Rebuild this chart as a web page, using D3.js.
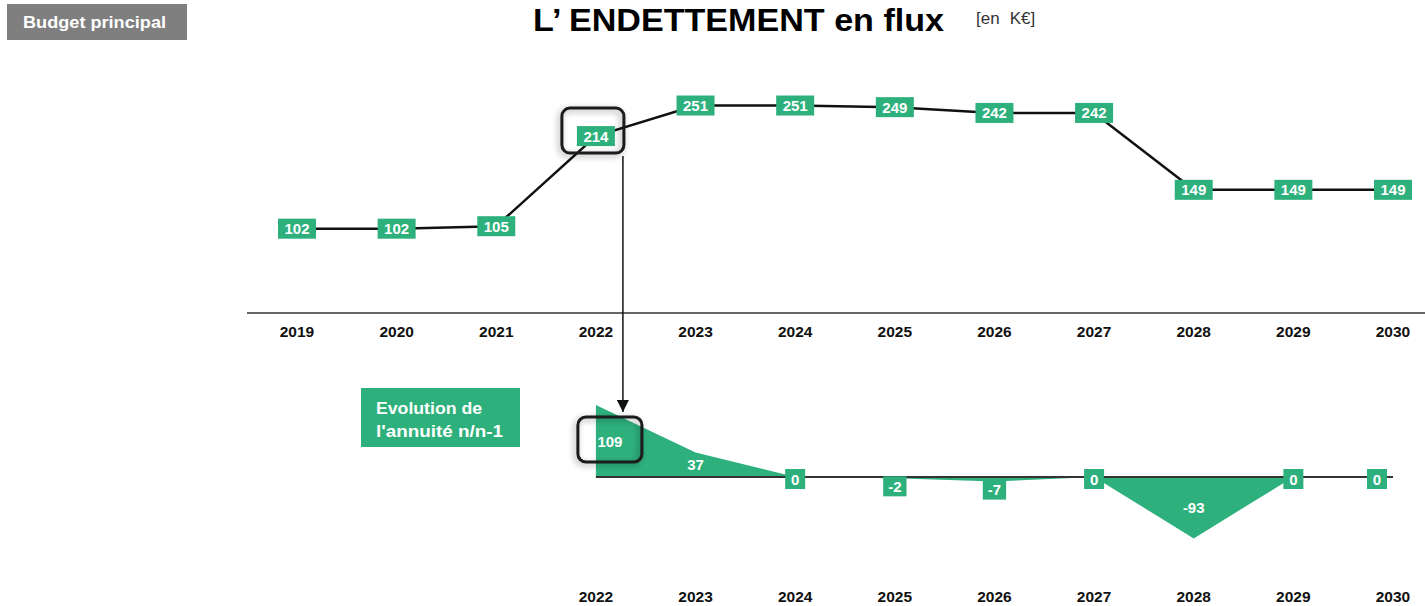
<!DOCTYPE html>
<html>
<head>
<meta charset="utf-8">
<script src="https://cdn.jsdelivr.net/npm/d3@7"></script>
<style>
  body { margin: 0; background: #fff; }
  svg { display: block; font-family: "Liberation Sans", Arial, sans-serif; }
</style>
</head>
<body>
<svg id="chart" width="1425" height="606"></svg>
<script>
// data
var years = [2019, 2020, 2021, 2022, 2023, 2024, 2025, 2026, 2027, 2028, 2029, 2030];
var encours = [102, 102, 105, 214, 251, 251, 249, 242, 242, 149, 149, 149];
var evoYears = [2022, 2023, 2024, 2025, 2026, 2027, 2028, 2029, 2030];
var evolution = [109, 37, 0, -2, -7, 0, -93, 0, 0];

var green = "#2eb07d";
var svg = d3.select("#chart");

// shadow for the highlight frames
var defs = svg.append("defs");
var f = defs.append("filter").attr("id", "shadow").attr("x", "-30%").attr("y", "-30%").attr("width", "160%").attr("height", "160%");
f.append("feDropShadow").attr("dx", -2).attr("dy", 2).attr("stdDeviation", 3).attr("flood-color", "#000").attr("flood-opacity", 0.35);
defs.append("marker").attr("id", "arrow").attr("viewBox", "0 0 10 10")
  .attr("refX", 10).attr("refY", 5).attr("markerWidth", 12).attr("markerHeight", 12)
  .attr("markerUnits", "userSpaceOnUse").attr("orient", "auto")
  .append("path").attr("d", "M0,0 L10,5 L0,10 z").attr("fill", "#111");

// header
svg.append("rect").attr("x", 7).attr("y", 4).attr("width", 180).attr("height", 36).attr("fill", "#7f7f7f");
svg.append("text").attr("x", 23).attr("y", 28).attr("textLength", 143).attr("lengthAdjust", "spacingAndGlyphs")
  .attr("fill", "#fff").attr("font-weight", "bold").attr("font-size", 16).text("Budget principal");
svg.append("text").attr("x", 533).attr("y", 31).attr("font-weight", "bold").attr("font-size", 31)
  .attr("textLength", 411).attr("lengthAdjust", "spacingAndGlyphs").attr("fill", "#000")
  .text("L’ ENDETTEMENT en flux");
var unit = svg.append("text").attr("x", 976).attr("y", 24).attr("font-size", 17).attr("fill", "#333");
unit.append("tspan").text("[en");
unit.append("tspan").attr("dx", 10).text("K€]");

// scales
var x = d3.scalePoint().domain(years).range([297, 1393]);
var yTop = d3.scaleLinear().domain([0, 300]).range([313, 65]);
var yBot = d3.scaleLinear().domain([-100, 120]).range([543, 397.8]);

// top axis
svg.append("line").attr("x1", 247).attr("x2", 1425).attr("y1", yTop(0)).attr("y2", yTop(0))
  .attr("stroke", "#333").attr("stroke-width", 1.5);
svg.append("g").selectAll("text").data(years).join("text")
  .attr("x", function(d){ return x(d); }).attr("y", 337).attr("text-anchor", "middle")
  .attr("font-weight", "bold").attr("font-size", 15.5).attr("fill", "#111").text(function(d){ return d; });

// top line
var topPts = years.map(function(d, i){ return [x(d), yTop(encours[i])]; });
svg.append("path").attr("d", d3.line()(topPts)).attr("fill", "none")
  .attr("stroke", "#111").attr("stroke-width", 2.5);

function box(g, cx, cy, txt, minW) {
  var t = g.append("text").attr("x", cx).attr("y", cy + 5.5).attr("text-anchor", "middle")
    .attr("fill", "#fff").attr("font-weight", "bold").attr("font-size", 15).text(txt);
  var w = Math.max(t.node().getComputedTextLength() + 10, minW || 0);
  g.insert("rect", "text").attr("x", cx - w / 2).attr("y", cy - 10).attr("width", w).attr("height", 20).attr("fill", green);
}
var gTop = svg.append("g");
years.forEach(function(d, i){
  var g = gTop.append("g");
  box(g, x(d), yTop(encours[i]), encours[i], 38);
});

// highlight frame around 2022 value + arrow
var hx = x(2022), hy = yTop(encours[3]);
svg.append("rect").attr("x", hx - 34).attr("y", hy - 28).attr("width", 62).attr("height", 45)
  .attr("rx", 8).attr("fill", "none").attr("stroke", "#1a1a1a").attr("stroke-width", 3).attr("filter", "url(#shadow)");
svg.append("line").attr("x1", hx + 27).attr("x2", hx + 27).attr("y1", hy + 20).attr("y2", 412)
  .attr("stroke", "#111").attr("stroke-width", 1.5).attr("marker-end", "url(#arrow)");

// bottom area chart
var botPts = evoYears.map(function(d, i){ return [x(d), evolution[i]]; });
var area = d3.area().x(function(d){ return d[0]; }).y0(yBot(0)).y1(function(d){ return yBot(d[1]); });
svg.append("path").attr("d", area(botPts)).attr("fill", green);
svg.append("line").attr("x1", x(2022)).attr("x2", x(2030)).attr("y1", yBot(0)).attr("y2", yBot(0))
  .attr("stroke", "#333").attr("stroke-width", 1.8);

var gBot = svg.append("g");
evoYears.forEach(function(d, i){
  var v = evolution[i];
  var cx = x(d);
  if (d === 2030) cx -= 16;
  if (Math.abs(v) > 20) {
    if (i === 0) cx += 14;
    gBot.append("text").attr("x", cx).attr("y", yBot(v / 2) + 5.5).attr("text-anchor", "middle")
      .attr("fill", "#fff").attr("font-weight", "bold").attr("font-size", 15).text(v);
  } else {
    box(gBot.append("g"), cx, yBot(Math.min(v, 0)) + (v < 0 ? 8 : 2), v, 20);
  }
});
svg.append("g").selectAll("text").data(evoYears).join("text")
  .attr("x", function(d){ return x(d); }).attr("y", 602).attr("text-anchor", "middle")
  .attr("font-weight", "bold").attr("font-size", 15.5).attr("fill", "#111").text(function(d){ return d; });

// highlight around 109
var bx = x(2022);
svg.append("rect").attr("x", bx - 18).attr("y", 417).attr("width", 64).attr("height", 45)
  .attr("rx", 8).attr("fill", "none").attr("stroke", "#1a1a1a").attr("stroke-width", 3).attr("filter", "url(#shadow)");

// legend box
svg.append("rect").attr("x", 361).attr("y", 388).attr("width", 159).attr("height", 59).attr("fill", green);
svg.append("text").attr("x", 376).attr("y", 414).attr("fill", "#fff").attr("font-weight", "bold").attr("font-size", 16)
  .attr("textLength", 106).attr("lengthAdjust", "spacingAndGlyphs").text("Evolution de");
svg.append("text").attr("x", 376).attr("y", 437).attr("fill", "#fff").attr("font-weight", "bold").attr("font-size", 16)
  .attr("textLength", 127).attr("lengthAdjust", "spacingAndGlyphs").text("l'annuité n/n-1");
</script>
</body>
</html>
